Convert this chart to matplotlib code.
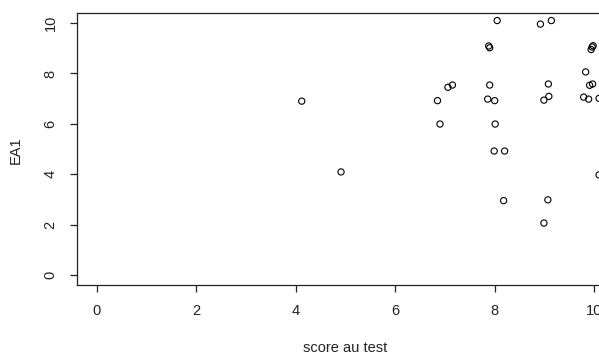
import numpy as np
import matplotlib.pyplot as plt

plt.rcParams['font.family'] = ['Liberation Sans', 'DejaVu Sans']

# score au test (x) et EA1 (y)
score = [4.12, 4.91, 6.85, 6.90, 7.06, 7.15, 7.86, 7.88, 7.90, 7.90, 7.99, 8.00,
         8.01, 8.05, 8.18, 8.20, 8.92, 8.99, 8.99, 9.07, 9.08, 9.09, 9.14, 9.79,
         9.83, 9.89, 9.91, 9.94, 9.96, 9.97, 9.98, 10.1, 10.1]
ea1 = [6.90, 4.09, 6.92, 5.99, 7.45, 7.54, 6.98, 9.09, 9.02, 7.54, 4.92, 6.92,
       5.99, 10.1, 2.95, 4.92, 9.96, 6.94, 2.06, 2.98, 7.58, 7.09, 10.1, 7.06,
       8.06, 6.98, 7.53, 8.95, 9.05, 7.58, 9.10, 7.01, 3.97]

fig = plt.figure(figsize=(5.99, 3.56), dpi=100)
# axes volontairement plus large que la figure (bord droit coupé comme l'original)
ax = fig.add_axes([77/599, 1 - 285/356, 537/599, 272/356])

ax.scatter(score, ea1, s=20, facecolors='none', edgecolors='black', linewidths=0.8)

ax.set_xlim(-0.4, 10.4)
ax.set_ylim(-0.4, 10.4)
ax.set_xticks(np.arange(0, 11, 2))
ax.set_yticks(np.arange(0, 11, 2))

for sp in ax.spines.values():
    sp.set_color('#222222')
    sp.set_linewidth(0.9)

ax.tick_params(axis='both', length=5, width=0.9, color='#222222', labelsize=10.5,
               labelcolor='#222222')
ax.tick_params(axis='x', pad=9)
ax.tick_params(axis='y', pad=9)
for lab in ax.get_yticklabels():
    lab.set_rotation(90)
    lab.set_va('center')

ax.set_xlabel("score au test", fontsize=10.5, color='#222222')
ax.xaxis.set_label_coords((345 - 77) / 537, (285 - 348) / 272)
ax.xaxis.label.set_va('center')
ax.set_ylabel("EA1", fontsize=10.5, color='#222222')
ax.yaxis.set_label_coords((16 - 77) / 537, (285 - 150) / 272)
ax.yaxis.label.set_va('center')

fig.savefig("out.png", dpi=100)
